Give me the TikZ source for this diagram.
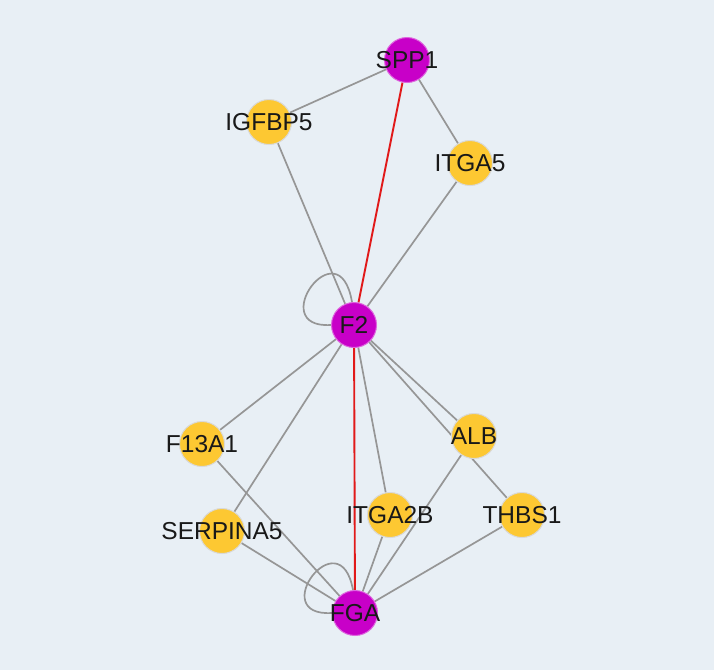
\documentclass[tikz,border=0pt]{standalone}
\usepackage{fontspec}
\setmainfont{Liberation Sans}
\usetikzlibrary{backgrounds,calc}
\definecolor{bgc}{RGB}{232,239,245}
\definecolor{hubc}{RGB}{200,0,200}
\definecolor{leafc}{RGB}{253,200,50}
\definecolor{edgec}{RGB}{150,150,150}
\definecolor{redc}{RGB}{225,25,25}
\definecolor{txtc}{RGB}{25,25,25}
\newcommand{\glabel}[1]{\makebox[0pt]{#1}}
\tikzset{
  gene/.style={circle, minimum size=45pt, inner sep=0pt, line width=1pt,
    font=\fontsize{24.5}{24.5}\selectfont, text=txtc},
  hub/.style={gene, fill=hubc, draw=hubc!60!white},
  leaf/.style={gene, fill=leafc, draw=black!15!white},
  link/.style={draw=edgec, line width=1.7pt},
  redlink/.style={draw=redc, line width=1.9pt},
}
\begin{document}
\begin{tikzpicture}[x=1pt,y=-1pt]
\useasboundingbox (0,0) rectangle (714,670);
\node[hub]  (SPP1)     at (407,60)  {\glabel{SPP1}};
\node[leaf] (IGFBP5)   at (269,122) {\glabel{IGFBP5}};
\node[leaf] (ITGA5)    at (470,163) {\glabel{ITGA5}};
\node[hub]  (F2)       at (354,325) {\glabel{F2}};
\node[leaf] (F13A1)    at (202,444) {\glabel{F13A1}};
\node[leaf] (ALB)      at (474,436) {\glabel{ALB}};
\node[leaf] (SERPINA5) at (222,531) {\glabel{SERPINA5}};
\node[leaf] (ITGA2B)   at (390,515) {\glabel{ITGA2B}};
\node[leaf] (THBS1)    at (522,515) {\glabel{THBS1}};
\node[hub]  (FGA)      at (355,613) {\glabel{FGA}};
\begin{scope}[on background layer]
\fill[bgc] (0,0) rectangle (714,670);
\draw[link] (SPP1) -- (IGFBP5);
\draw[link] (SPP1) -- (ITGA5);
\draw[link] (IGFBP5) -- (F2);
\draw[link] (ITGA5) -- (F2);
\draw[link] (F2) -- (F13A1);
\draw[link] (F2) -- (SERPINA5);
\draw[link] (F2) -- (ITGA2B);
\draw[link] (F2) -- (ALB);
\draw[link] (F2) -- (THBS1);
\draw[link] (ALB) -- (FGA);
\draw[link] (F13A1) -- (FGA);
\draw[link] (SERPINA5) -- (FGA);
\draw[link] (ITGA2B) -- (FGA);
\draw[link] (THBS1) -- (FGA);
\draw[link] (F2.180) .. controls ($(F2)+(-90,4)$) and ($(F2)+(-15,-100)$) .. (F2.95);
\draw[link] (FGA.180) .. controls ($(FGA)+(-90,4)$) and ($(FGA)+(-15,-96)$) .. (FGA.95);
\draw[redlink] (SPP1) -- (F2);
\draw[redlink] (F2) -- (FGA);
\end{scope}
\end{tikzpicture}
\end{document}
